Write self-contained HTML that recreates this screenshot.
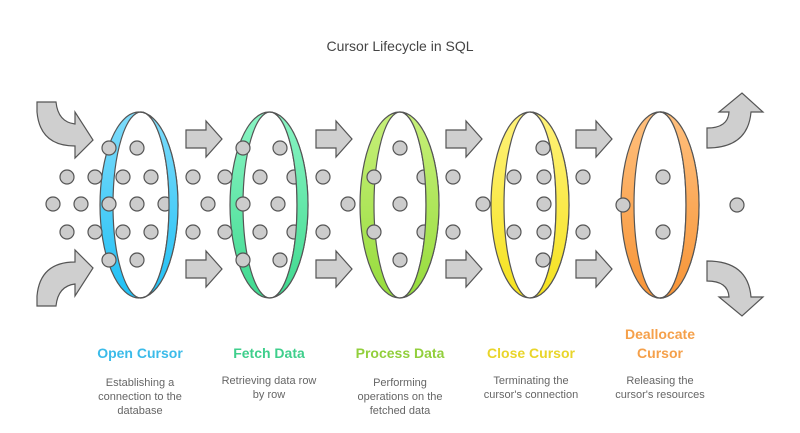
<!DOCTYPE html>
<html><head><meta charset="utf-8"><style>
body{margin:0;background:#fff;width:800px;height:428px;overflow:hidden;font-family:"Liberation Sans",sans-serif}
</style></head><body>
<svg width="800" height="428" viewBox="0 0 800 428" xmlns="http://www.w3.org/2000/svg">
<defs>
<linearGradient id="g1" x1="0" y1="0" x2="0" y2="1"><stop offset="0" stop-color="#7fdcfb"/><stop offset="1" stop-color="#1fc0f5"/></linearGradient>
<linearGradient id="g2" x1="0" y1="0" x2="0" y2="1"><stop offset="0" stop-color="#8af5c4"/><stop offset="1" stop-color="#3fd98f"/></linearGradient>
<linearGradient id="g3" x1="0" y1="0" x2="0" y2="1"><stop offset="0" stop-color="#c8f07a"/><stop offset="1" stop-color="#96dc3c"/></linearGradient>
<linearGradient id="g4" x1="0" y1="0" x2="0" y2="1"><stop offset="0" stop-color="#fff27a"/><stop offset="1" stop-color="#f5e21e"/></linearGradient>
<linearGradient id="g5" x1="0" y1="0" x2="0" y2="1"><stop offset="0" stop-color="#ffc07e"/><stop offset="1" stop-color="#f79436"/></linearGradient>
<path id="ar" d="M0,-9 H20 V-18 L36,0 L20,18 V9 H0 Z" fill="#cfcfcf" stroke="#555" stroke-width="1.2"/>
<g id="dots" fill="#cccccc" stroke="#555" stroke-width="1.2">
<circle cx="109" cy="148" r="7"/><circle cx="137" cy="148" r="7"/>
<circle cx="109" cy="260" r="7"/><circle cx="137" cy="260" r="7"/>
<circle cx="67" cy="177" r="7"/><circle cx="95" cy="177" r="7"/><circle cx="123" cy="177" r="7"/><circle cx="151" cy="177" r="7"/>
<circle cx="67" cy="232" r="7"/><circle cx="95" cy="232" r="7"/><circle cx="123" cy="232" r="7"/><circle cx="151" cy="232" r="7"/>
<circle cx="53" cy="204" r="7"/><circle cx="81" cy="204" r="7"/><circle cx="109" cy="204" r="7"/><circle cx="137" cy="204" r="7"/><circle cx="165" cy="204" r="7"/>

<circle cx="243" cy="148" r="7"/><circle cx="280" cy="148" r="7"/>
<circle cx="243" cy="260" r="7"/><circle cx="280" cy="260" r="7"/>
<circle cx="193" cy="177" r="7"/><circle cx="225" cy="177" r="7"/><circle cx="260" cy="177" r="7"/><circle cx="294" cy="177" r="7"/><circle cx="323" cy="177" r="7"/>
<circle cx="193" cy="232" r="7"/><circle cx="225" cy="232" r="7"/><circle cx="260" cy="232" r="7"/><circle cx="294" cy="232" r="7"/><circle cx="323" cy="232" r="7"/>
<circle cx="208" cy="204" r="7"/><circle cx="243" cy="204" r="7"/><circle cx="278" cy="204" r="7"/>

<circle cx="400" cy="148" r="7"/><circle cx="400" cy="260" r="7"/>
<circle cx="374" cy="177" r="7"/><circle cx="424" cy="177" r="7"/><circle cx="453" cy="177" r="7"/>
<circle cx="374" cy="232" r="7"/><circle cx="424" cy="232" r="7"/><circle cx="453" cy="232" r="7"/>
<circle cx="348" cy="204" r="7"/><circle cx="400" cy="204" r="7"/>

<circle cx="543" cy="148" r="7"/><circle cx="543" cy="260" r="7"/>
<circle cx="514" cy="177" r="7"/><circle cx="544" cy="177" r="7"/>
<circle cx="514" cy="232" r="7"/><circle cx="544" cy="232" r="7"/>
<circle cx="483" cy="204" r="7"/><circle cx="544" cy="204" r="7"/>

<circle cx="583" cy="177" r="7"/><circle cx="663" cy="177" r="7"/>
<circle cx="583" cy="232" r="7"/><circle cx="663" cy="232" r="7"/>
<circle cx="623" cy="205" r="7"/><circle cx="737" cy="205" r="7"/>
</g>
<clipPath id="r1"><rect x="140" y="100" width="60" height="210"/></clipPath>
<clipPath id="r2"><rect x="270" y="100" width="60" height="210"/></clipPath>
<clipPath id="r3"><rect x="400" y="100" width="60" height="210"/></clipPath>
<clipPath id="r4"><rect x="530" y="100" width="60" height="210"/></clipPath>
<clipPath id="r5"><rect x="660" y="100" width="60" height="210"/></clipPath>
<path id="ring1" stroke="#555" stroke-width="1.2" fill-rule="evenodd" fill="url(#g1)" d="M100,205 a39,93 0 1,0 78,0 a39,93 0 1,0 -78,0 Z M113,205 a28,93 0 1,0 56,0 a28,93 0 1,0 -56,0 Z"/>
<path id="ring2" stroke="#555" stroke-width="1.2" fill-rule="evenodd" fill="url(#g2)" d="M230,205 a39,93 0 1,0 78,0 a39,93 0 1,0 -78,0 Z M243,205 a27,93 0 1,0 54,0 a27,93 0 1,0 -54,0 Z"/>
<path id="ring3" stroke="#555" stroke-width="1.2" fill-rule="evenodd" fill="url(#g3)" d="M360,205 a39.5,93 0 1,0 79,0 a39.5,93 0 1,0 -79,0 Z M374,205 a26,93 0 1,0 52,0 a26,93 0 1,0 -52,0 Z"/>
<path id="ring4" stroke="#555" stroke-width="1.2" fill-rule="evenodd" fill="url(#g4)" d="M491,205 a39,93 0 1,0 78,0 a39,93 0 1,0 -78,0 Z M504,205 a26,93 0 1,0 52,0 a26,93 0 1,0 -52,0 Z"/>
<path id="ring5" stroke="#555" stroke-width="1.2" fill-rule="evenodd" fill="url(#g5)" d="M621,205 a39,93 0 1,0 78,0 a39,93 0 1,0 -78,0 Z M634,205 a26,93 0 1,0 52,0 a26,93 0 1,0 -52,0 Z"/>
</defs>
<text x="400" y="51" text-anchor="middle" font-size="14" fill="#444">Cursor Lifecycle in SQL</text>

<use href="#ring1"/><use href="#ring2"/><use href="#ring3"/><use href="#ring4"/><use href="#ring5"/>
<use href="#dots"/>
<g clip-path="url(#r1)"><use href="#ring1"/></g>
<g clip-path="url(#r2)"><use href="#ring2"/></g>
<g clip-path="url(#r3)"><use href="#ring3"/></g>
<g clip-path="url(#r4)"><use href="#ring4"/></g>
<g clip-path="url(#r5)"><use href="#ring5"/></g>

<use href="#ar" x="186" y="139"/><use href="#ar" x="186" y="269"/>
<use href="#ar" x="316" y="139"/><use href="#ar" x="316" y="269"/>
<use href="#ar" x="446" y="139"/><use href="#ar" x="446" y="269"/>
<use href="#ar" x="576" y="139"/><use href="#ar" x="576" y="269"/>

<g fill="#cfcfcf" stroke="#555" stroke-width="1.2">
<path d="M37,102 H56 Q58,122 75,124 V112 L93,140 L75,158 V146 Q40,146 37,112 Z"/>
<path d="M37,306 H56 Q58,286 75,284 V296 L93,268 L75,250 V262 Q40,262 37,296 Z"/>
<path d="M707,148 V128 Q728,128 729,112 H719 L742,93 L763,112 H751 Q748,148 707,148 Z"/>
<path d="M707,261 V281 Q728,281 729,297 H719 L742,316 L763,297 H751 Q748,261 707,261 Z"/>
</g>

<g font-size="14" font-weight="bold" text-anchor="middle">
<text x="140" y="358" fill="#3bbbe9">Open Cursor</text>
<text x="269" y="358" fill="#3fcf8c">Fetch Data</text>
<text x="400" y="358" fill="#92cf3c">Process Data</text>
<text x="531" y="358" fill="#e9d52a">Close Cursor</text>
<text x="660" y="339" fill="#f5a04a">Deallocate</text>
<text x="660" y="358" fill="#f5a04a">Cursor</text>
</g>
<g font-size="11" fill="#666" text-anchor="middle">
<text x="140" y="386">Establishing a</text><text x="140" y="400">connection to the</text><text x="140" y="414">database</text>
<text x="269" y="384">Retrieving data row</text><text x="269" y="398">by row</text>
<text x="400" y="386">Performing</text><text x="400" y="400">operations on the</text><text x="400" y="414">fetched data</text>
<text x="531" y="384">Terminating the</text><text x="531" y="398">cursor's connection</text>
<text x="660" y="384">Releasing the</text><text x="660" y="398">cursor's resources</text>
</g>
</svg>
</body></html>
